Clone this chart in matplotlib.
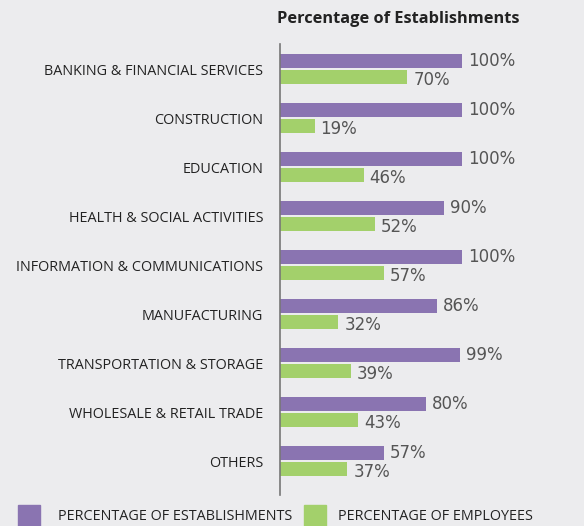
import matplotlib.pyplot as plt
from matplotlib.patches import Rectangle

categories = ["BANKING & FINANCIAL SERVICES", "CONSTRUCTION", "EDUCATION",
              "HEALTH & SOCIAL ACTIVITIES", "INFORMATION & COMMUNICATIONS",
              "MANUFACTURING", "TRANSPORTATION & STORAGE",
              "WHOLESALE & RETAIL TRADE", "OTHERS"]
establishments = [100, 100, 100, 90, 100, 86, 99, 80, 57]
employees = [70, 19, 46, 52, 57, 32, 39, 43, 37]

bg = "#ececee"
purple = "#8a74b1"
green = "#a3d06b"
W, H = 584, 526

fig = plt.figure(figsize=(W / 100, H / 100), dpi=100, facecolor=bg)
ax = fig.add_axes([280 / W, 1 - 495 / H, 304 / W, 451 / H])
ax.set_facecolor(bg)

y = list(range(len(categories)))
bh = 0.286
off = 0.168
ax.barh([v - off for v in y], establishments, height=bh, color=purple)
ax.barh([v + off for v in y], employees, height=bh, color=green)

for i in y:
    ax.text(establishments[i] + 3.3, i - off, f"{establishments[i]}%",
            va="center", ha="left", fontsize=12, color="#555555")
    ax.text(employees[i] + 3.3, i + off + 0.06, f"{employees[i]}%",
            va="center", ha="left", fontsize=12, color="#555555")

ax.set_xlim(0, 167)
ax.set_ylim(8.69, -0.51)
ax.set_yticks(y)
ax.set_yticklabels(categories, fontsize=10.4, color="#222222", family="Open Sans")
ax.tick_params(axis="y", length=0, pad=12)
ax.set_xticks([])
for s in ["top", "right", "bottom"]:
    ax.spines[s].set_visible(False)
ax.spines["left"].set_color("#777777")
ax.spines["left"].set_linewidth(1.2)

fig.text(398 / W, 1 - 19 / H, "Percentage of Establishments", ha="center",
         va="center", fontsize=11.8, fontweight="bold", color="#222222",
         family="Open Sans")

# legend
fig.patches.append(Rectangle((18 / W, 0), 22 / W, 21 / H, transform=fig.transFigure,
                             color=purple))
fig.text(58 / W, 1 - 516 / H, "PERCENTAGE OF ESTABLISHMENTS", va="center",
         fontsize=10.4, color="#222222", family="Open Sans")
fig.patches.append(Rectangle((304 / W, 0), 22 / W, 21 / H, transform=fig.transFigure,
                             color=green))
fig.text(338 / W, 1 - 516 / H, "PERCENTAGE OF EMPLOYEES", va="center",
         fontsize=10.4, color="#222222", family="Open Sans")

fig.savefig("out.png", dpi=100, facecolor=bg)
